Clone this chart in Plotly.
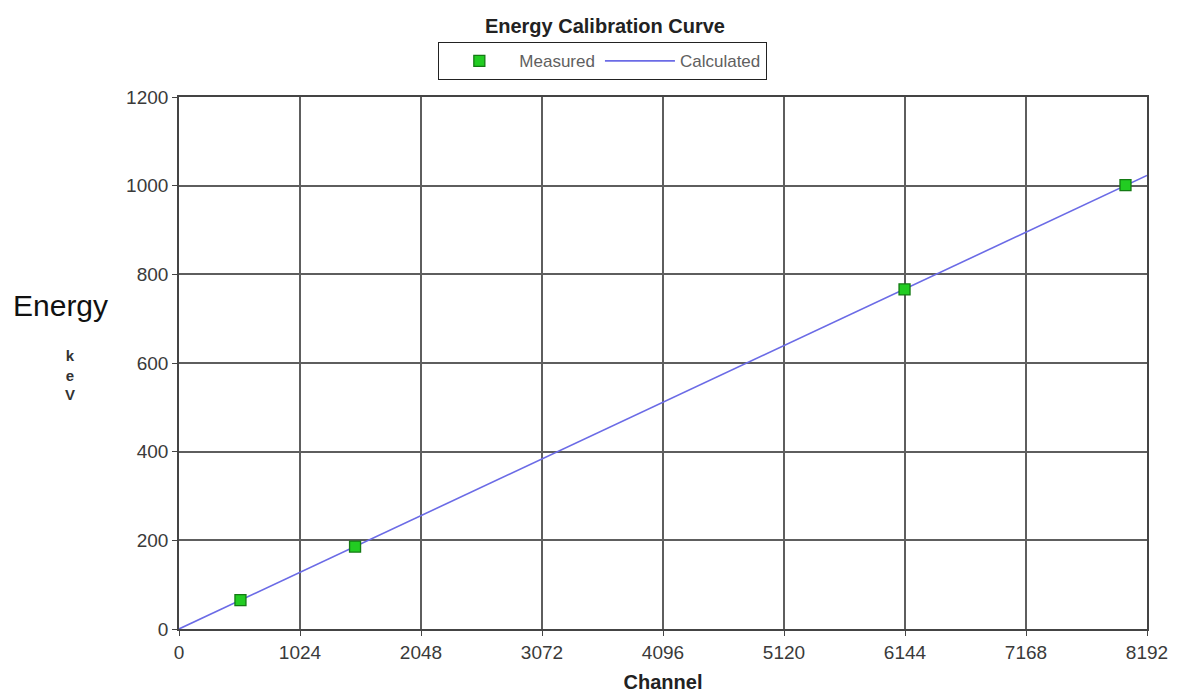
import plotly.graph_objects as go

# Calibration points measured from known source peaks
measured_channel = [520, 1490, 6140, 8010]
measured_energy = [65, 186, 766, 1001]

# Linear fit through the origin, evaluated at the ends of the channel range
calc_channel = [0, 8192]
calc_energy = [0, 1023]

x_ticks = [0, 1024, 2048, 3072, 4096, 5120, 6144, 7168, 8192]
y_ticks = [0, 200, 400, 600, 800, 1000, 1200]

font_family = "Liberation Sans, Arial, sans-serif"
grid_color = "#5e5e5e"

fig = go.Figure()
fig.add_trace(go.Scatter(
    x=calc_channel, y=calc_energy, mode="lines", name="Calculated",
    line=dict(color="#6b6be6", width=1.6),
))
fig.add_trace(go.Scatter(
    x=measured_channel, y=measured_energy, mode="markers", name="Measured",
    marker=dict(symbol="square", size=11, color="#22cc22",
                line=dict(color="#137a13", width=1.3)),
))

fig.update_layout(
    width=1180, height=693,
    margin=dict(l=179, r=33, t=97, b=64),
    paper_bgcolor="white", plot_bgcolor="white",
    font=dict(family=font_family, size=19, color="#3a3a3a"),
    title=dict(text="<b>Energy Calibration Curve</b>", xref="paper", x=0.440,
               xanchor="center", y=0.962, yanchor="middle",
               font=dict(size=20, color="#222222")),
    legend=dict(orientation="h", x=0.2676, xanchor="left", y=1.1034, yanchor="top",
                bordercolor="#222222", borderwidth=1.3, bgcolor="white",
                font=dict(size=17, color="#606060"), traceorder="reversed",
                itemwidth=70),
    showlegend=True,
)

fig.update_xaxes(
    range=[0, 8192], tickvals=x_ticks, ticktext=[str(v) for v in x_ticks],
    showgrid=True, gridcolor=grid_color, gridwidth=1.6,
    showline=True, linecolor="#444444", linewidth=1.6, mirror=True,
    ticks="outside", ticklen=5, tickcolor="#444444",
    zeroline=False, automargin=False,
    title=dict(text="<b>Channel</b>", font=dict(size=20, color="#222222"), standoff=16),
)
fig.update_yaxes(
    range=[0, 1200], tickvals=y_ticks,
    showgrid=True, gridcolor=grid_color, gridwidth=1.6,
    showline=True, linecolor="#444444", linewidth=1.6, mirror=True,
    ticks="outside", ticklen=5, tickcolor="#444444",
    zeroline=False, automargin=False,
)

# Y-axis caption: quantity name with the unit stacked beneath it
fig.add_annotation(text="Energy", xref="paper", yref="paper",
                   x=-0.1229, y=0.609, xanchor="center", yanchor="middle",
                   showarrow=False, font=dict(size=30, color="#111111"))
fig.add_annotation(text="<b>k<br>e<br>V</b>", xref="paper", yref="paper",
                   x=-0.1126, y=0.477, xanchor="center", yanchor="middle",
                   showarrow=False, align="center",
                   font=dict(size=15, color="#333333"))

fig.write_html("out.html")
